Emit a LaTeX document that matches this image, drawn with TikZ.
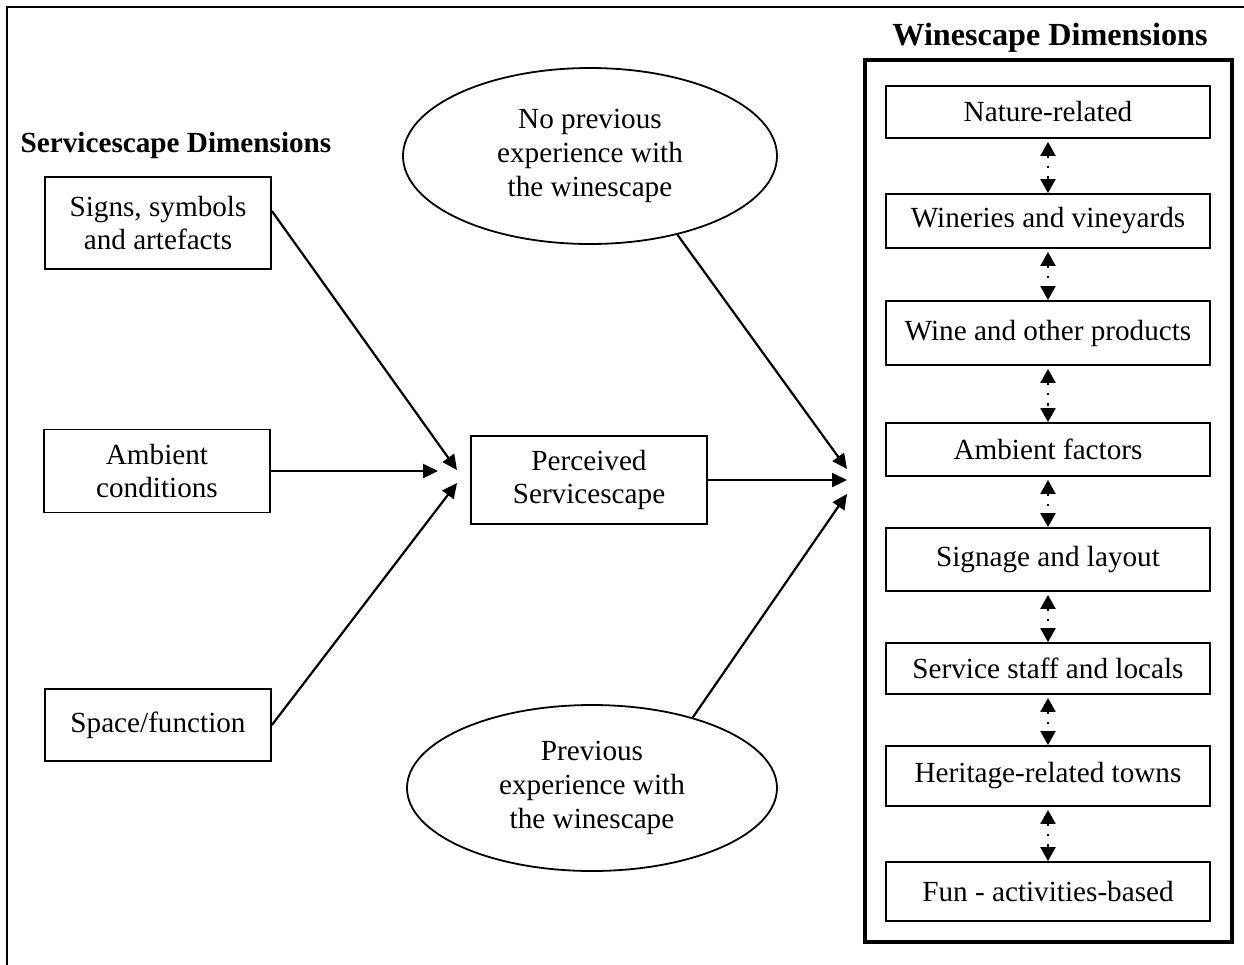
\documentclass[tikz,border=0pt]{standalone}
\usepackage{fontspec}
\setmainfont{Liberation Serif}
\usetikzlibrary{shapes.geometric, arrows.meta}
\tikzset{
  dimbox/.style={draw, line width=0.9pt, align=center, inner sep=0pt, minimum width=113pt},
  wineitem/.style={draw, line width=0.9pt, inner sep=0pt, minimum width=162pt},
  expell/.style={draw, ellipse, line width=0.9pt, align=center, inner sep=0pt},
  link/.style={line width=1.1pt, -{Triangle[length=7.5pt,width=7pt]}},
  twoway/.style={line width=1.1pt, dash pattern=on 1.2pt off 4pt,
    {Triangle[length=7pt,width=7.5pt]}-{Triangle[length=7pt,width=7.5pt]}},
  headfont/.style={font=\fontsize{14.6}{16.8}\selectfont\bfseries}
}
\begin{document}
\begin{tikzpicture}[x=0.5pt, y=-0.5pt, font=\fontsize{14.6}{16.8}\selectfont]
            \useasboundingbox (0,0) rectangle (1244,965);
            \draw[line width=1.1pt] (7,965) -- (7,7) -- (1244,7);

            \node[headfont] (servtitle) at (176,145) {Servicescape Dimensions};
            \node[dimbox, minimum height=46pt] (signs) at (158,223) {Signs, symbols\\and artefacts};
            \node[dimbox, minimum height=41.5pt] (ambient) at (157,471) {Ambient\\conditions};
            \node[dimbox, minimum height=36pt] (space) at (158,725) {Space/function};

            \node[dimbox, minimum width=118pt, minimum height=44pt] (perceived) at (589,480) {Perceived\\Servicescape};

            \node[expell, minimum width=187pt, minimum height=88pt] (noprev) at (590,156) {No previous\\experience with\\the winescape};
            \node[expell, minimum width=185pt, minimum height=83pt] (prev) at (592,788) {Previous\\experience with\\the winescape};

            \node[headfont, font=\fontsize{16.1}{18.5}\selectfont\bfseries] (winetitle) at (1050,38) {Winescape Dimensions};
            \draw[line width=1.8pt] (865,60) rectangle (1232,942);

            \node[wineitem, minimum height=26pt] (nature) at (1048,112) {Nature-related};
            \node[wineitem, minimum height=27pt] (wineries) at (1048,221) {Wineries and vineyards};
            \node[wineitem, minimum height=32pt] (wine) at (1048,333) {Wine and other products};
            \node[wineitem, minimum height=26.5pt] (ambfactors) at (1048,449.5) {Ambient factors};
            \node[wineitem, minimum height=31.5pt] (signage) at (1048,559.5) {Signage and layout};
            \node[wineitem, minimum height=25.5pt] (staff) at (1048,668.5) {Service staff and locals};
            \node[wineitem, minimum height=30pt] (heritage) at (1048,776) {Heritage-related towns};
            \node[wineitem, minimum height=29.5pt] (fun) at (1048,891.5) {Fun - activities-based};

            \foreach \a/\b in {nature/wineries, wineries/wine, wine/ambfactors, ambfactors/signage,
                               signage/staff, staff/heritage, heritage/fun}
              \draw[twoway, shorten <=1.5pt] (\a.south) -- (\b.north);

            \coordinate (sigtip) at (457,470);
            \coordinate (ambtip) at (438,471);
            \coordinate (spatip) at (457,483);
            \draw[link] (signs.6) -- (sigtip);
            \draw[link] (ambient.east) -- (ambtip);
            \draw[link] (space.east) -- (spatip);

            \coordinate (noptip) at (847,469);
            \coordinate (pertip) at (847,480);
            \coordinate (prvtip) at (847,494);
            \draw[link] (noprev.-42) -- (noptip);
            \draw[link] (perceived.east) -- (pertip);
            \draw[link] (prev.35) -- (prvtip);
        \end{tikzpicture}
\end{document}
